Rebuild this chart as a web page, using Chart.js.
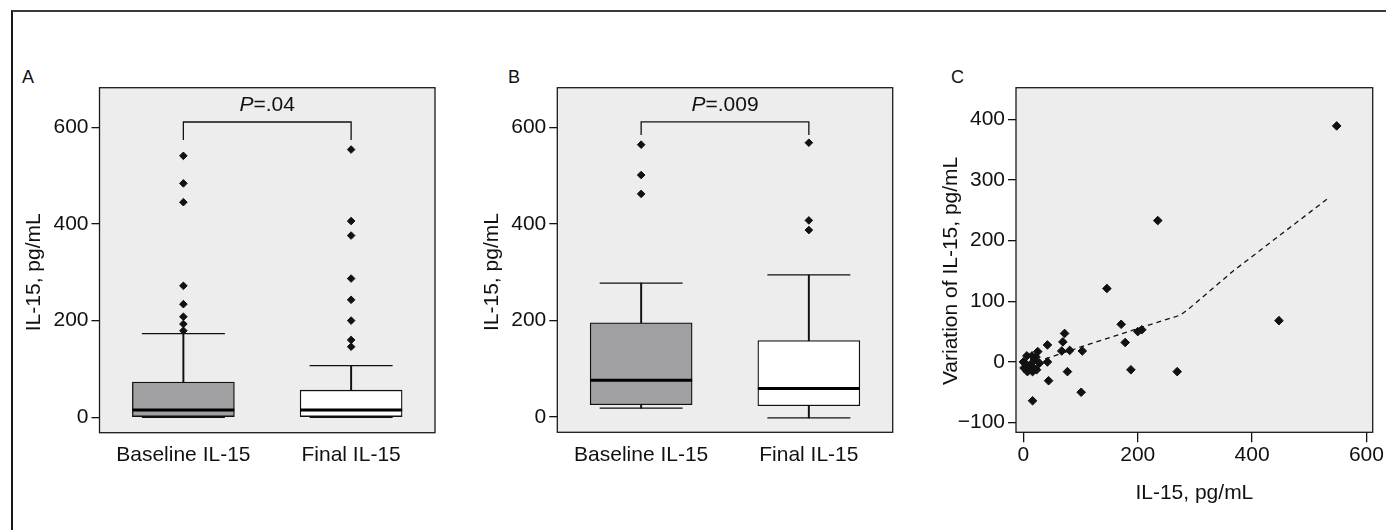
<!DOCTYPE html>
<html lang="en">
<head>
<meta charset="UTF-8">
<title>IL-15 baseline vs final</title>
<script src="https://cdn.jsdelivr.net/npm/chart.js"></script>
<style>
    html, body { margin: 0; padding: 0; background: #fff; overflow: hidden; }
    body { font-family: 'Liberation Sans', Arial, sans-serif; color: #111; }
    #page { position: relative; width: 1386px; height: 530px; overflow: hidden; }
    .frame {
        position: absolute; left: 11px; top: 10px; width: 1500px; height: 700px;
        border-top: 2px solid #3a3a3a; border-left: 2px solid #1a1a1a;
    }
    .panel { position: absolute; top: 60px; height: 460px; }
    .letter { position: absolute; font-size: 18px; line-height: 18px; }
</style>
</head>
<body>
<div id="page">
    <div class="frame"></div>
    <div class="letter" style="left:22px; top:68px;">A</div>
    <div class="letter" style="left:508px; top:68px;">B</div>
    <div class="letter" style="left:951px; top:68px;">C</div>
    <div class="panel" style="left:10px; width:440px;"><canvas id="chartA"></canvas></div>
    <div class="panel" style="left:470px; width:440px;"><canvas id="chartB"></canvas></div>
    <div class="panel" style="left:920px; width:476px;"><canvas id="chartC"></canvas></div>
</div>

<script>
    const categories = ["Baseline IL-15", "Final IL-15"];
    const boxTicks = [0, 200, 400, 600];

    // Painel A
    const aLow = [0, 0];
    const aQ1 = [0, 0];
    const aMedian = [15, 15];
    const aQ3 = [73, 56];
    const aHigh = [173, 107];
    const aOutBaseline = [541, 484, 445, 272, 234, 208, 193, 179];
    const aOutFinal = [554, 406, 376, 287, 243, 200, 160, 146];
    const aBracket = [574, 611];
    const aP = "=.04";

    // Painel B
    const bLow = [18, -2];
    const bQ1 = [25, 23];
    const bMedian = [76, 59];
    const bQ3 = [195, 158];
    const bHigh = [277, 294];
    const bOutBaseline = [564, 501, 462];
    const bOutFinal = [568, 407, 387];
    const bBracket = [584, 611];
    const bP = "=.009";

    // Painel C
    const cBaseline = [548, 235, 146, 447, 171, 200, 207, 178, 188, 269, 101, 103, 81, 67, 72, 69, 77, 42, 42, 44, 16, 25,
                       0, 6, 1, 7, 15, 12, 23, 28, 19, 16, 9, 4, 18, 22];
    const cVariation = [389, 233, 121, 68, 62, 50, 53, 32, -13, -16, -50, 18, 19, 18, 47, 33, -16, 28, 0, -31, -64, 17,
                        0, 10, -10, -16, 10, -5, -13, -2, 3, -16, -8, -3, -10, 8];
    const cFitX = [38, 111, 190, 274, 290, 367, 460, 536];
    const cFitY = [5, 28, 52, 77, 88, 150, 217, 272];
    const cTicksX = [0, 200, 400, 600];
    const cTicksY = [-100, 0, 100, 200, 300, 400];

    const FONT = "'Liberation Sans', Arial, sans-serif";
    const INK = "#111";
    Chart.defaults.font.family = FONT;
    Chart.defaults.color = INK;

    // fundo cinza, moldura, título vertical e valor de P
    const panelFrame = {
        id: "panelFrame",
        beforeDatasetsDraw(chart) {
            const { ctx, chartArea: a } = chart;
            ctx.save();
            ctx.fillStyle = "#ecedec";
            ctx.fillRect(a.left, a.top, a.width, a.height);
            ctx.restore();
        },
        afterDatasetsDraw(chart, args, opts) {
            const { ctx, chartArea: a, scales } = chart;
            ctx.save();
            ctx.strokeStyle = "#1a1a1a";
            ctx.lineWidth = 1.3;
            ctx.strokeRect(a.left, a.top, a.width, a.height);

            const t = scales.y.ticks;
            const yMid = (scales.y.getPixelForValue(t[0].value) + scales.y.getPixelForValue(t[t.length - 1].value)) / 2;
            ctx.fillStyle = INK;
            ctx.font = "21px " + FONT;
            ctx.textAlign = "center";
            ctx.textBaseline = "middle";
            ctx.save();
            ctx.translate(a.left - 65, yMid);
            ctx.rotate(-Math.PI / 2);
            ctx.fillText(opts.yTitle, 0, 0);
            ctx.restore();

            if (opts.pText) {
                const cx = (scales.x.getPixelForValue(0) + scales.x.getPixelForValue(1)) / 2;
                const cy = scales.y.getPixelForValue(opts.pAt);
                ctx.font = "italic 21px " + FONT;
                const wP = ctx.measureText("P").width;
                ctx.font = "21px " + FONT;
                const wR = ctx.measureText(opts.pText).width;
                const x0 = cx - (wP + wR) / 2;
                ctx.textAlign = "left";
                ctx.font = "italic 21px " + FONT;
                ctx.fillText("P", x0, cy);
                ctx.font = "21px " + FONT;
                ctx.fillText(opts.pText, x0 + wP, cy);
            }
            ctx.restore();
        }
    };

    function outlierSet(values, cat) {
        return {
            type: "line", showLine: false,
            data: values.map(v => ({ x: cat, y: v })),
            pointStyle: "rectRot", pointRadius: 3.8,
            pointBackgroundColor: INK, pointBorderColor: INK, pointBorderWidth: 1
        };
    }

    function capSet(values) {
        return {
            type: "line", showLine: false, data: values,
            pointStyle: "line", pointRadius: 41.5,
            pointBorderColor: INK, pointBorderWidth: 1.3
        };
    }

    function boxChart(id, low, q1, med, q3, high, outB, outF, bracket, pText, yWidth, rightPad, bottomPad) {
        return new Chart(document.getElementById(id), {
            type: "bar",
            data: {
                labels: categories,
                datasets: [
                    { type: "line", showLine: false, data: med, pointStyle: "line", pointRadius: 51,
                      pointBorderColor: "#000", pointBorderWidth: 3 },
                    capSet(high),
                    capSet(low),
                    outlierSet(outB, categories[0]),
                    outlierSet(outF, categories[1]),
                    { type: "line", borderColor: INK, borderWidth: 1.3, pointRadius: 0, fill: false,
                      data: [
                          { x: categories[0], y: bracket[0] }, { x: categories[0], y: bracket[1] },
                          { x: categories[1], y: bracket[1] }, { x: categories[1], y: bracket[0] }
                      ] },
                    { data: q1.map((v, i) => [v, q3[i]]), backgroundColor: ["#a0a0a2", "#ffffff"],
                      borderColor: INK, borderWidth: 1.3, borderSkipped: false, barThickness: 102, grouped: false },
                    { data: q3.map((v, i) => [v, high[i]]), backgroundColor: INK, barThickness: 1.3, grouped: false },
                    { data: low.map((v, i) => [v, q1[i]]), backgroundColor: INK, barThickness: 1.3, grouped: false }
                ]
            },
            options: {
                responsive: true, maintainAspectRatio: false, animation: false, events: [],
                layout: { autoPadding: false, padding: { left: 0, top: 27.7, right: rightPad, bottom: bottomPad } },
                plugins: {
                    legend: { display: false }, tooltip: { enabled: false },
                    panelFrame: { yTitle: "IL-15, pg/mL", pText: pText, pAt: 646 }
                },
                scales: {
                    x: {
                        grid: { display: false, drawTicks: false }, border: { display: false },
                        ticks: { padding: 10, font: { size: 21 }, color: INK, maxRotation: 0, autoSkip: false },
                        afterFit: s => { s.height = 60; }
                    },
                    y: {
                        min: -32, max: 682,
                        afterBuildTicks: s => { s.ticks = boxTicks.map(v => ({ value: v })); },
                        grid: { drawOnChartArea: false, drawTicks: true, tickLength: 8, color: INK, lineWidth: 1.3 },
                        border: { display: false },
                        ticks: { padding: 3, font: { size: 21 }, color: INK },
                        afterFit: s => { s.width = yWidth; }
                    }
                }
            },
            plugins: [panelFrame]
        });
    }

    boxChart("chartA", aLow, aQ1, aMedian, aQ3, aHigh, aOutBaseline, aOutFinal, aBracket, aP, 89.5, 15, 27.3);
    boxChart("chartB", bLow, bQ1, bMedian, bQ3, bHigh, bOutBaseline, bOutFinal, bBracket, bP, 87.3, 17.3, 27.7);

    // Gráfico de dispersão C
    new Chart(document.getElementById("chartC"), {
        type: "scatter",
        data: {
            datasets: [
                { data: cBaseline.map((x, i) => ({ x: x, y: cVariation[i] })),
                  pointStyle: "rectRot", pointRadius: 4.3,
                  pointBackgroundColor: INK, pointBorderColor: INK, pointBorderWidth: 1 },
                { type: "line", data: cFitX.map((x, i) => ({ x: x, y: cFitY[i] })),
                  borderColor: INK, borderWidth: 1.3, borderDash: [5, 4], pointRadius: 0, fill: false }
            ]
        },
        options: {
            responsive: true, maintainAspectRatio: false, animation: false, events: [],
            layout: { autoPadding: false, padding: { left: 0, top: 27.7, right: 23.3, bottom: 13.7 } },
            plugins: {
                legend: { display: false }, tooltip: { enabled: false },
                panelFrame: { yTitle: "Variation of IL-15, pg/mL" }
            },
            scales: {
                x: {
                    type: "linear", min: -13, max: 611,
                    afterBuildTicks: s => { s.ticks = cTicksX.map(v => ({ value: v })); },
                    grid: { drawOnChartArea: false, drawTicks: true, tickLength: 10, color: INK, lineWidth: 1.3 },
                    border: { display: false },
                    ticks: { padding: 0, font: { size: 21 }, color: INK, maxRotation: 0 },
                    title: { display: true, text: "IL-15, pg/mL", font: { size: 21 }, color: INK, padding: { top: 0, bottom: 0 } },
                    afterFit: s => { s.height = 74; }
                },
                y: {
                    min: -116, max: 452,
                    afterBuildTicks: s => { s.ticks = cTicksY.map(v => ({ value: v })); },
                    grid: { drawOnChartArea: false, drawTicks: true, tickLength: 8, color: INK, lineWidth: 1.3 },
                    border: { display: false },
                    ticks: { padding: 3, font: { size: 21 }, color: INK,
                             callback: v => v < 0 ? "\u2212" + Math.abs(v) : String(v) },
                    afterFit: s => { s.width = 96; }
                }
            }
        },
        plugins: [panelFrame]
    });
</script>
</body>
</html>
